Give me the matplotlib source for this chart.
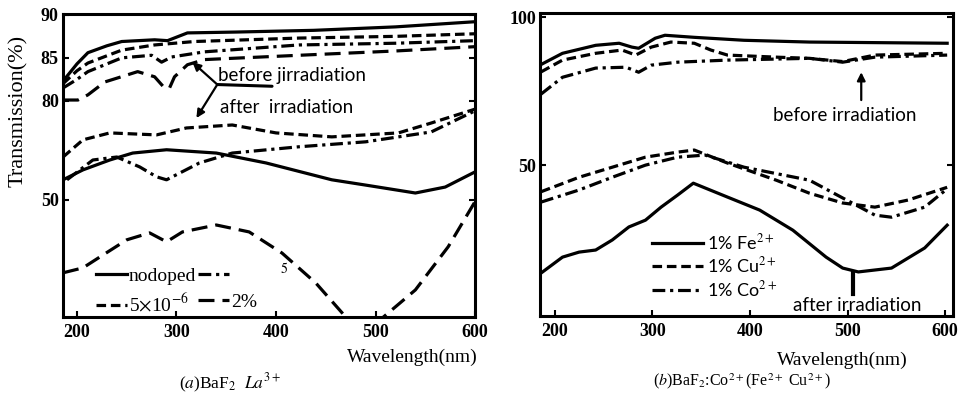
"""Transmission spectra of doped BaF2 crystals before / after irradiation."""

import matplotlib

matplotlib.use('Agg')
import matplotlib.pyplot as plt
import numpy as np

plt.rcParams['font.family'] = ['Liberation Serif', 'DejaVu Serif']
plt.rcParams['mathtext.fontset'] = 'stix'

# ---- (a) BaF2:La3+ ----
# before irradiation
wl_a_nod_b = [186, 200, 211, 230, 245, 278, 291, 311, 360, 438, 520, 600]
t_a_nod_b = [82.3, 84.3, 85.6, 86.4, 86.9, 87.1, 87.0, 87.9, 88.0, 88.2, 88.6, 89.2]
wl_a_56_b = [186, 200, 211, 245, 278, 318, 423, 520, 600]
t_a_56_b = [82.0, 83.5, 84.4, 85.9, 86.5, 86.9, 87.3, 87.5, 87.8]
wl_a_55_b = [186, 200, 211, 245, 275, 285, 295, 328, 423, 520, 600]
t_a_55_b = [81.5, 82.5, 83.4, 85.0, 85.3, 84.5, 85.1, 85.7, 86.5, 86.7, 87.0]
wl_a_2p_b = [186, 201, 211, 228, 261, 278, 288, 293, 298, 311, 328, 423, 520, 600]
t_a_2p_b = [80.1, 80.1, 80.7, 82.2, 83.4, 82.8, 81.5, 81.5, 82.8, 84.2, 84.8, 85.3, 85.8, 86.3]
# after irradiation
wl_a_nod_a = [186, 206, 233, 256, 290, 340, 390, 456, 490, 540, 570, 600]
t_a_nod_a = [56.1, 59.1, 62.1, 64.2, 65.2, 64.2, 61.2, 56.1, 54.5, 52.1, 53.9, 58.5]
wl_a_56_a = [186, 206, 233, 280, 310, 356, 400, 456, 523, 556, 600]
t_a_56_a = [63.0, 68.2, 70.3, 69.7, 71.8, 72.7, 70.3, 69.1, 70.3, 73.3, 77.5]
wl_a_55_a = [190, 216, 240, 263, 280, 290, 323, 356, 423, 490, 556, 600]
t_a_55_a = [56.1, 62.1, 63.0, 60.0, 57.0, 56.1, 61.2, 64.2, 66.1, 67.6, 70.6, 77.0]
wl_a_2p_a = [186, 206, 223, 250, 273, 290, 306, 340, 373, 406, 440, 473, 506, 540, 573, 600]
t_a_2p_a = [27.9, 29.4, 32.7, 37.9, 40.0, 37.3, 40.3, 42.4, 40.3, 33.9, 24.8, 13.5, 14.0, 22.7, 35.8, 49.5]

labels_a = ['nodoped', r'5$\times$10$^{-6}$', r'          $^{5}$', '2%']
yticks_a = [50, 80, 85, 90]

# ---- (b) BaF2:Co2+ (Fe2+, Cu2+) ----
wl_b_fe_b = [186, 208, 242, 266, 279, 286, 303, 313, 343, 394, 461, 602]
t_b_fe_b = [84.0, 87.8, 90.5, 91.2, 89.9, 89.5, 92.9, 93.9, 93.2, 92.2, 91.6, 91.2]
wl_b_cu_b = [186, 208, 242, 269, 283, 299, 319, 343, 360, 377, 427, 461, 495, 528, 602]
t_b_cu_b = [81.5, 85.5, 87.8, 88.9, 87.2, 89.9, 91.6, 91.2, 88.9, 87.2, 86.5, 86.1, 85.0, 87.2, 87.8]
wl_b_co_b = [186, 208, 242, 273, 286, 299, 326, 377, 461, 495, 528, 602]
t_b_co_b = [74.0, 79.7, 82.8, 83.1, 81.4, 83.8, 84.8, 85.5, 86.1, 84.8, 86.5, 87.2]
wl_b_fe_a = [186, 208, 225, 242, 259, 276, 293, 309, 326, 342, 377, 410, 444, 478, 495, 511, 545, 579, 602]
t_b_fe_a = [13.5, 18.9, 20.6, 21.3, 24.7, 29.1, 31.4, 35.8, 39.9, 43.9, 39.2, 34.8, 28.0, 18.9, 15.2, 13.9, 15.2, 22.0, 29.7]
wl_b_cu_a = [186, 225, 259, 293, 326, 343, 377, 427, 461, 495, 528, 562, 602]
t_b_cu_a = [41.0, 45.9, 49.3, 52.7, 54.4, 55.1, 50.7, 44.9, 40.5, 37.2, 35.8, 38.2, 42.5]
wl_b_co_a = [186, 225, 259, 293, 326, 354, 394, 461, 495, 528, 545, 579, 602]
t_b_co_a = [37.5, 41.6, 45.9, 50.0, 52.7, 53.4, 49.3, 44.9, 38.9, 33.1, 32.4, 35.8, 42.0]

labels_b = [r'1% Fe$^{2+}$', r'1% Cu$^{2+}$', r'1% Co$^{2+}$']
yticks_b = [50, 100]
xticks = [200, 300, 400, 500, 600]

# 左图纵轴为分段线性刻度 (80 以上被拉伸)
SCALE_T = np.array([-200.0, 14.5, 50.0, 80.0, 85.0, 90.0, 300.0])
SCALE_P = np.array([-708.0, 0.0, 117.0, 216.0, 259.0, 302.0, 2108.0])


def fwd(t):
    return np.interp(t, SCALE_T, SCALE_P)


def inv(p):
    return np.interp(p, SCALE_P, SCALE_T)


LW = 2.3
SOLID = '-'
DASH = (0, (3, 1.5))
DASHDOT = (0, (4, 1.5, 1, 1.5))
LONGDASH = (0, (5, 2.5))
SANS = ['Lato', 'DejaVu Sans']


def style_axes(ax):
    for sp in ax.spines.values():
        sp.set_linewidth(2.2)
    ax.tick_params(direction='in', length=4, width=1.5, right=True,
                   labelsize=13, pad=3)
    ax.tick_params(axis='x', pad=5)
    for lab in ax.get_xticklabels() + ax.get_yticklabels():
        lab.set_fontweight('bold')


fig = plt.figure(figsize=(9.58, 3.96), dpi=100)
ax1 = fig.add_axes([0.0658, 0.1995, 0.4301, 0.7652])
ax2 = fig.add_axes([0.5637, 0.2020, 0.4311, 0.7650])

# ---- panel (a) ----
ax1.set_yscale('function', functions=(fwd, inv))
h_nod, = ax1.plot(wl_a_nod_b, t_a_nod_b, color='k', lw=LW, ls=SOLID)
h_56, = ax1.plot(wl_a_56_b, t_a_56_b, color='k', lw=LW, ls=DASH)
h_55, = ax1.plot(wl_a_55_b, t_a_55_b, color='k', lw=LW, ls=DASHDOT)
h_2p, = ax1.plot(wl_a_2p_b, t_a_2p_b, color='k', lw=LW, ls=LONGDASH)
ax1.plot(wl_a_nod_a, t_a_nod_a, color='k', lw=LW, ls=SOLID)
ax1.plot(wl_a_56_a, t_a_56_a, color='k', lw=LW, ls=DASH)
ax1.plot(wl_a_55_a, t_a_55_a, color='k', lw=LW, ls=DASHDOT)
ax1.plot(wl_a_2p_a, t_a_2p_a, color='k', lw=LW, ls=LONGDASH)
ax1.set_xlim(186, 598)
ax1.set_ylim(14.5, 90.1)
ax1.set_xticks(xticks)
ax1.set_yticks(yticks_a)
ax1.yaxis.set_minor_locator(matplotlib.ticker.NullLocator())
style_axes(ax1)

ax1.legend([h_nod, h_56, h_55, h_2p], labels_a, ncol=2, loc='upper left',
           bbox_to_anchor=(0.08, 0.178), frameon=False, fontsize=14,
           handlelength=1.6, handletextpad=0.1, columnspacing=0.1,
           labelspacing=0.4, borderpad=0, borderaxespad=0)

# before / after 指示线
jx, jy = 341, 81.9
ax1.annotate('', xy=(316, 84.5), xytext=(jx, jy),
             arrowprops=dict(arrowstyle='-|>', color='k', lw=1.6,
                             mutation_scale=12, shrinkA=0, shrinkB=0))
ax1.annotate('', xy=(320, 74.8), xytext=(jx, jy),
             arrowprops=dict(arrowstyle='-|>', color='k', lw=1.6,
                             mutation_scale=12, shrinkA=0, shrinkB=0))
ax1.annotate('', xy=(396, 81.7), xytext=(jx, jy),
             arrowprops=dict(arrowstyle='-', color='k', lw=2.2,
                             shrinkA=0, shrinkB=0))
ax1.text(342, 83.0, 'before jirradiation', fontsize=13.5, va='center',
         family=SANS)
ax1.text(344, 77.9, 'after  irradiation', fontsize=13.5, va='center',
         family=SANS)

fig.text(0.0188, 0.72, 'Transmission(%)', rotation=90, fontsize=16,
         ha='center', va='center')
fig.text(0.499, 0.0985, 'Wavelength(nm)', fontsize=14, ha='right', va='center')
fig.text(0.240, 0.033, r'($a$)BaF$_2$  $La^{3+}$', fontsize=12.5,
         ha='center', va='center')

# ---- panel (b) ----
g_fe, = ax2.plot(wl_b_fe_b, t_b_fe_b, color='k', lw=LW, ls=SOLID)
g_cu, = ax2.plot(wl_b_cu_b, t_b_cu_b, color='k', lw=LW, ls=DASH)
g_co, = ax2.plot(wl_b_co_b, t_b_co_b, color='k', lw=LW, ls=DASHDOT)
ax2.plot(wl_b_fe_a, t_b_fe_a, color='k', lw=LW, ls=SOLID)
ax2.plot(wl_b_cu_a, t_b_cu_a, color='k', lw=LW, ls=DASH)
ax2.plot(wl_b_co_a, t_b_co_a, color='k', lw=LW, ls=DASHDOT)
ax2.set_xlim(185, 608)
ax2.set_ylim(-1.0, 101.4)
ax2.set_xticks(xticks)
ax2.set_yticks(yticks_b)
style_axes(ax2)

ax2.legend([g_fe, g_cu, g_co], labels_b, loc='upper left',
           bbox_to_anchor=(0.272, 0.277), frameon=False,
           handlelength=2.8, handletextpad=0.25, labelspacing=0.2,
           borderpad=0, borderaxespad=0,
           prop={'family': SANS, 'size': 13})

ax2.annotate('', xy=(514, 81.4), xytext=(514, 72.0),
             arrowprops=dict(arrowstyle='-|>', color='k', lw=1.6,
                             mutation_scale=12, shrinkA=0, shrinkB=0))
ax2.text(497, 66.9, 'before irradiation', fontsize=13.5, ha='center',
         va='center', family=SANS)
ax2.plot([506, 506], [13.5, 6.5], color='k', lw=3)
ax2.text(510, 2.7, 'after irradiation', fontsize=13.5, ha='center',
         va='center', family=SANS)

fig.text(0.879, 0.091, 'Wavelength(nm)', fontsize=14, ha='center', va='center')
fig.text(0.775, 0.038, r'($b$)BaF$_2$:Co$^{2+}$(Fe$^{2+}$ Cu$^{2+}$)',
         fontsize=11.5, ha='center', va='center')

fig.savefig('out.png', dpi=100)
